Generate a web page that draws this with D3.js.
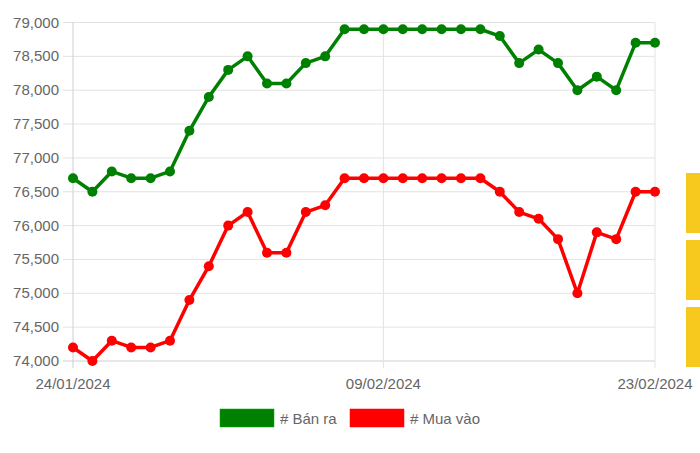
<!DOCTYPE html>
<html>
<head>
<meta charset="utf-8">
<title>Giá vàng</title>
<script src="https://cdn.jsdelivr.net/npm/d3@7"></script>
<style>
  body { margin: 0; background: #fff; }
  svg text { font-family: "Liberation Sans", Arial, sans-serif; fill: #666; }
</style>
</head>
<body>
<svg id="chart"></svg>
<script>
// dates 24/01/2024 .. 23/02/2024, one point per day
const dates = d3.timeDays(new Date(2024, 0, 24), new Date(2024, 1, 24));
const tickDates = [new Date(2024, 0, 24), new Date(2024, 1, 9), new Date(2024, 1, 23)];
const yTicks = [74000, 74500, 75000, 75500, 76000, 76500, 77000, 77500, 78000, 78500, 79000];

const banRa = [76700, 76500, 76800, 76700, 76700, 76800, 77400, 77900, 78300, 78500,
  78100, 78100, 78400, 78500, 78900, 78900, 78900, 78900, 78900, 78900,
  78900, 78900, 78800, 78400, 78600, 78400, 78000, 78200, 78000, 78700, 78700];
const muaVao = [74200, 74000, 74300, 74200, 74200, 74300, 74900, 75400, 76000, 76200,
  75600, 75600, 76200, 76300, 76700, 76700, 76700, 76700, 76700, 76700,
  76700, 76700, 76500, 76200, 76100, 75800, 75000, 75900, 75800, 76500, 76500];

const series = [
  {name: "# Bán ra", color: "#008000", values: banRa},
  {name: "# Mua vào", color: "#ff0000", values: muaVao}
];

const width = 700, height = 453;
const svg = d3.select("#chart").attr("width", width).attr("height", height);

const x = d3.scaleTime().domain([dates[0], dates[dates.length - 1]]).range([73, 655]);
const y = d3.scaleLinear().domain([74000, 79000]).range([361, 22.5]);

// horizontal grid
svg.append("g")
  .selectAll("line").data(yTicks).join("line")
  .attr("x1", 63).attr("x2", 655)
  .attr("y1", d => y(d)).attr("y2", d => y(d))
  .attr("stroke", d => d === 74000 ? "#cfcfcf" : "#e3e3e3").attr("stroke-width", 1);

// vertical grid at the labelled dates
svg.append("g")
  .selectAll("line").data(tickDates).join("line")
  .attr("x1", d => x(d)).attr("x2", d => x(d))
  .attr("y1", 22.5).attr("y2", 368)
  .attr("stroke", (d, i) => i === 0 ? "#cfcfcf" : "#e3e3e3").attr("stroke-width", 1);

// y labels
const fmt = d3.format(",");
svg.append("g")
  .selectAll("text").data(yTicks).join("text")
  .attr("x", 59).attr("y", d => y(d) + 5)
  .attr("text-anchor", "end").attr("font-size", 15)
  .text(d => fmt(d));

// x labels
const fmtDate = d3.timeFormat("%d/%m/%Y");
svg.append("g")
  .selectAll("text").data(tickDates).join("text")
  .attr("x", d => x(d)).attr("y", 389)
  .attr("text-anchor", "middle").attr("font-size", 15)
  .text(d => fmtDate(d));

// lines and points
series.forEach(s => {
  const line = d3.line().x((d, i) => x(dates[i])).y(d => y(d));
  svg.append("path")
    .datum(s.values)
    .attr("d", line)
    .attr("fill", "none")
    .attr("stroke", s.color)
    .attr("stroke-width", 3.5)
    .attr("stroke-linejoin", "round");
  svg.append("g")
    .selectAll("circle").data(s.values).join("circle")
    .attr("cx", (d, i) => x(dates[i]))
    .attr("cy", d => y(d))
    .attr("r", 5)
    .attr("fill", s.color);
});

// legend
const legendX = [220, 350];
const legend = svg.append("g")
  .selectAll("g").data(series).join("g")
  .attr("transform", (d, i) => `translate(${legendX[i]},409)`);
legend.append("rect")
  .attr("width", 54).attr("height", 18)
  .attr("fill", d => d.color)
  .attr("stroke", d => d3.color(d.color).brighter(0.8)).attr("stroke-width", 0.5);
legend.append("text")
  .attr("x", 60).attr("y", 14.5)
  .attr("font-size", 15)
  .text(d => d.name);

// yellow side tabs at the right edge
const tabs = [[173, 233], [240, 300], [307, 367]];
svg.append("g")
  .selectAll("rect").data(tabs).join("rect")
  .attr("x", 686).attr("y", d => d[0])
  .attr("width", 14).attr("height", d => d[1] - d[0])
  .attr("fill", "#f7c81e");
</script>
</body>
</html>
